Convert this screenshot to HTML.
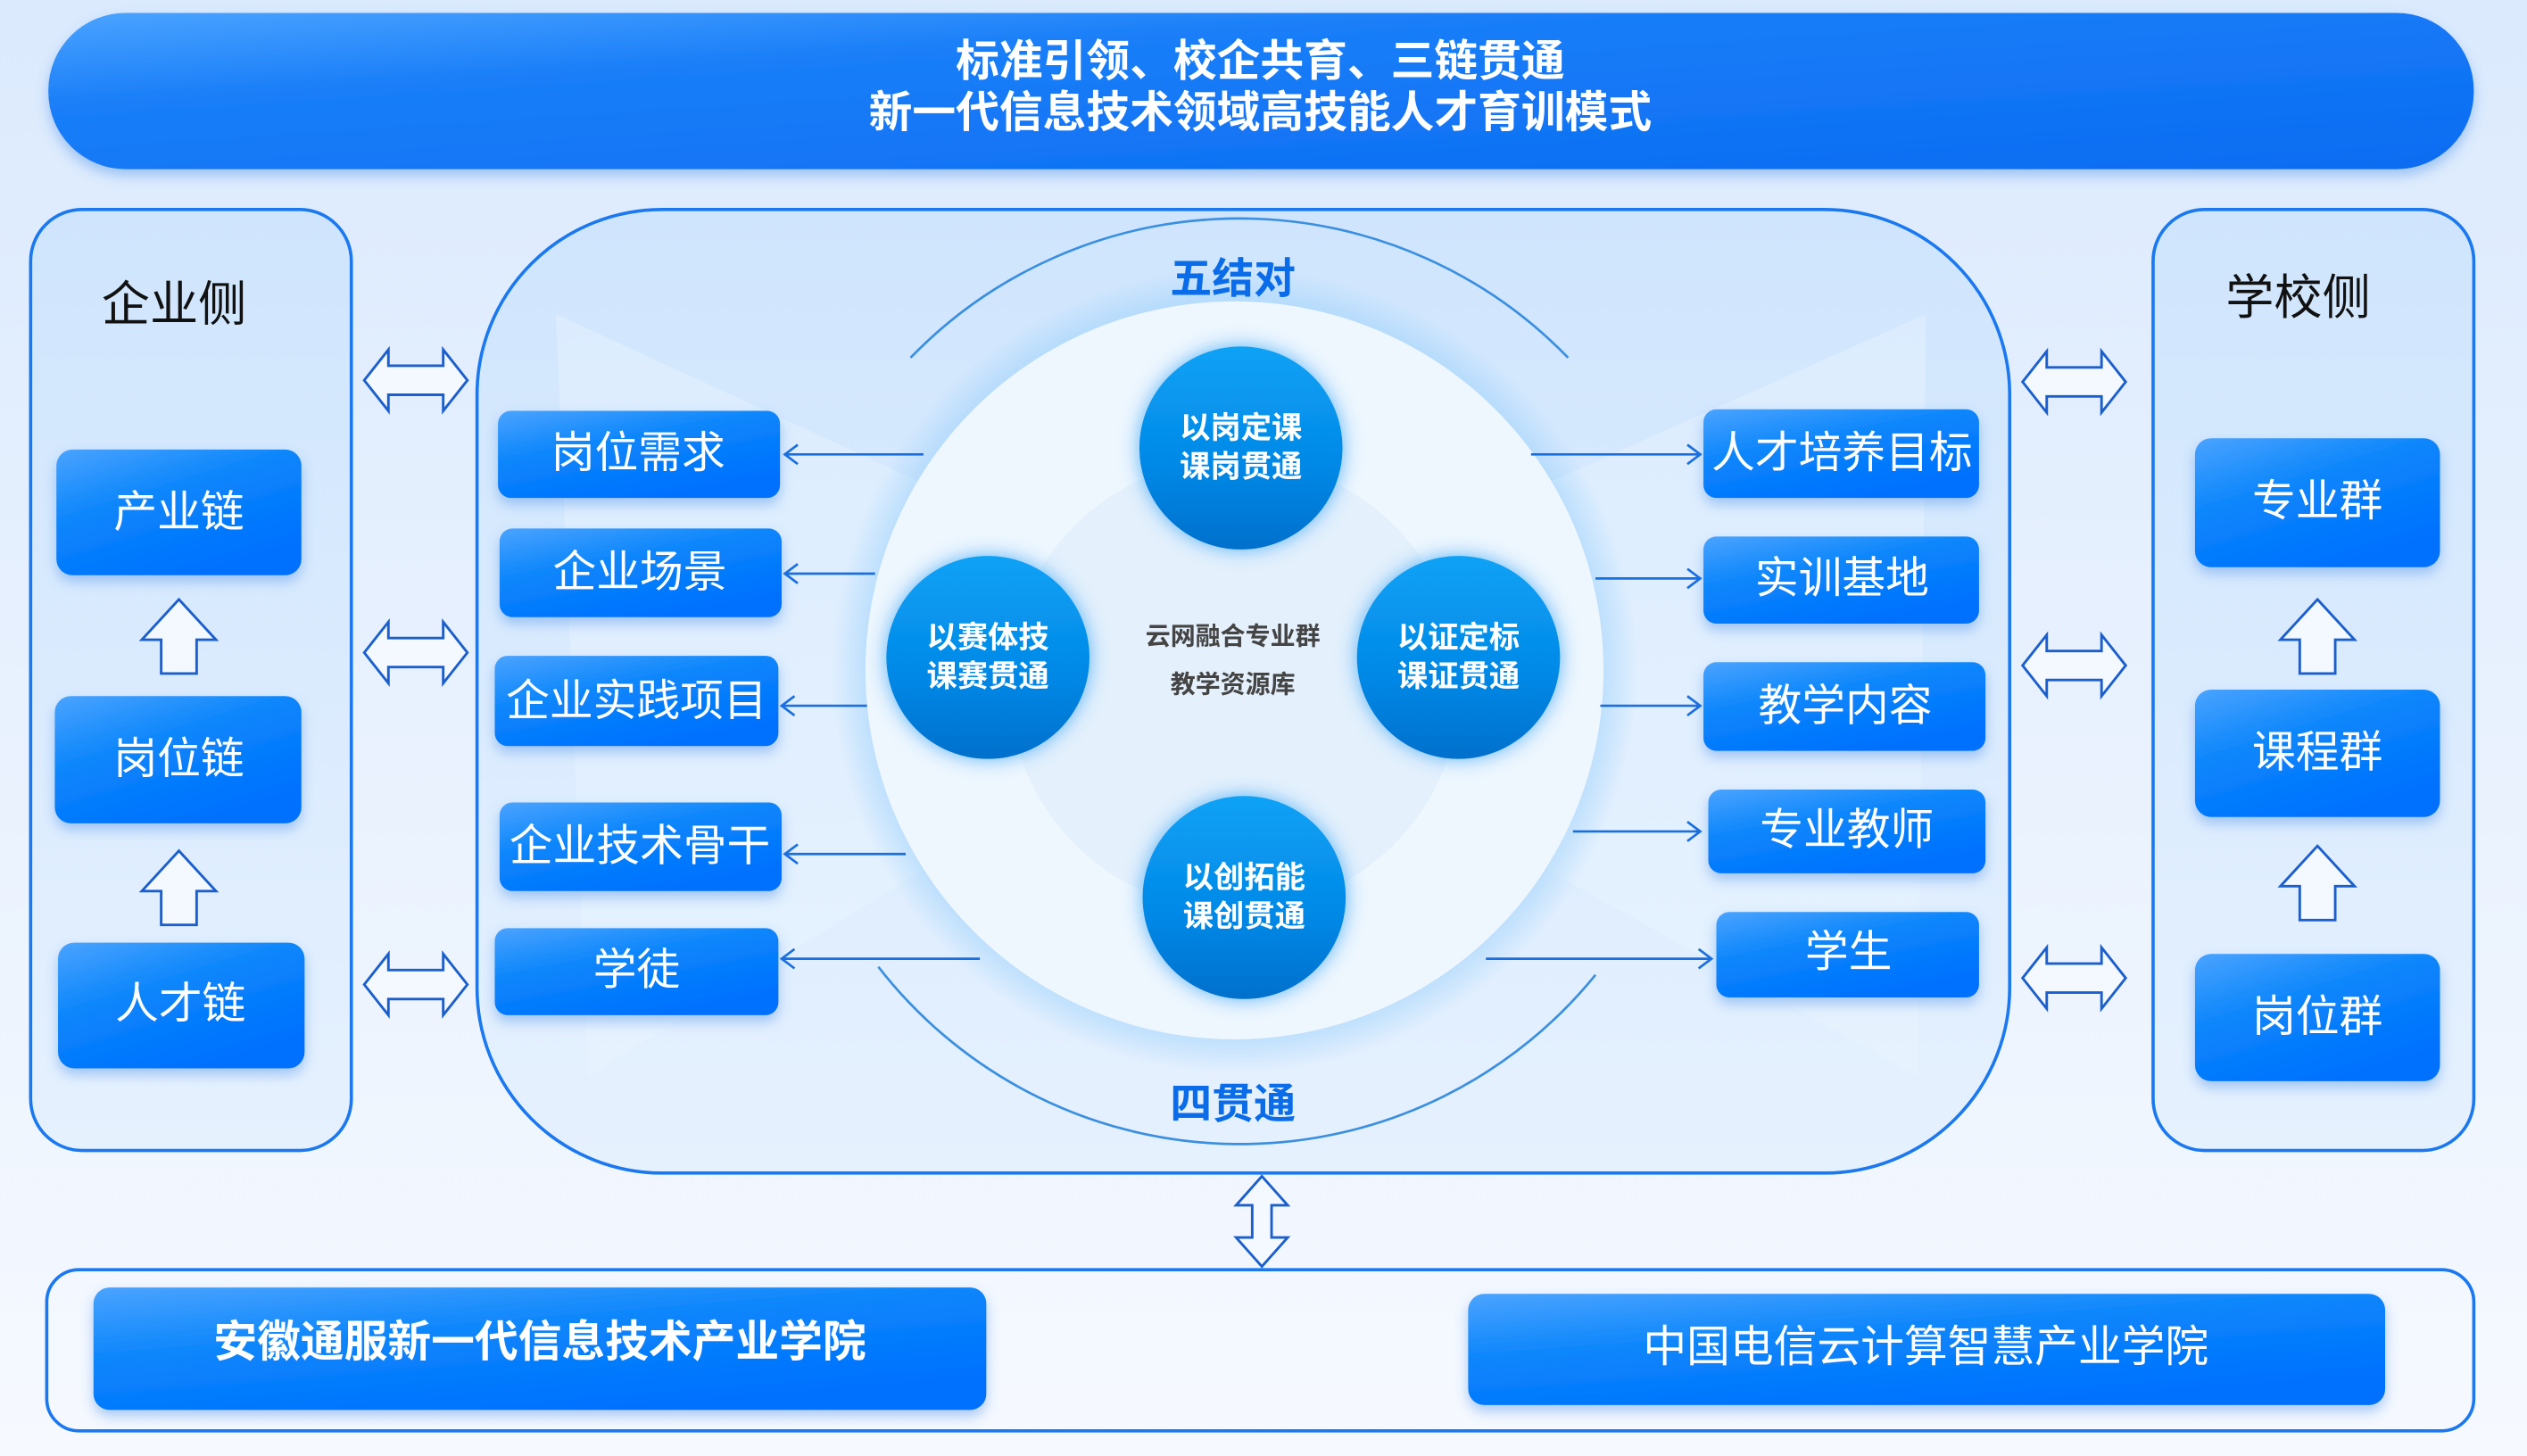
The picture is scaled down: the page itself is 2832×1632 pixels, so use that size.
<!DOCTYPE html>
<html><head><meta charset="utf-8"><style>
html,body{margin:0;padding:0;width:2832px;height:1632px;overflow:hidden;background:#eef5fe}
svg{display:block}
text{font-family:"Liberation Sans","Noto Sans CJK SC",sans-serif}
</style></head><body>
<svg width="2832" height="1632" viewBox="0 0 1568 903.6" xmlns="http://www.w3.org/2000/svg">
<defs>
<linearGradient id="bg" x1="0" y1="0" x2="0" y2="1"><stop offset="0" stop-color="#dbeafd"/><stop offset="1" stop-color="#f6f9ff"/></linearGradient>
<linearGradient id="ban" x1="0" y1="0" x2="1" y2="1"><stop offset="0" stop-color="#4aa3ff"/><stop offset="0.3" stop-color="#1a7ef8"/><stop offset="1" stop-color="#0a6cf2"/></linearGradient>
<linearGradient id="box" x1="0" y1="0" x2="0.6" y2="1"><stop offset="0" stop-color="#4aa3ff"/><stop offset="0.45" stop-color="#0a85fb"/><stop offset="1" stop-color="#0070ff"/></linearGradient>
<linearGradient id="sc" x1="0" y1="0" x2="0" y2="1"><stop offset="0" stop-color="#0aa2f6"/><stop offset="0.6" stop-color="#0488e6"/><stop offset="1" stop-color="#0070cc"/></linearGradient>
<linearGradient id="pan" x1="0" y1="0" x2="0" y2="1"><stop offset="0" stop-color="#cfe5fd"/><stop offset="1" stop-color="#e6f1fe"/></linearGradient>
<radialGradient id="glow"><stop offset="0.8" stop-color="#8fccfb"/><stop offset="1" stop-color="#8fccfb" stop-opacity="0"/></radialGradient>
<filter id="sh" x="-20%" y="-20%" width="140%" height="150%"><feDropShadow dx="0" dy="4" stdDeviation="4" flood-color="#4a8fe8" flood-opacity="0.45"/></filter>
<filter id="cg" x="-30%" y="-30%" width="160%" height="160%"><feDropShadow dx="0" dy="0" stdDeviation="6" flood-color="#39a4f5" flood-opacity="0.8"/></filter>
</defs>
<rect width="1568" height="904" fill="url(#bg)"/>
<rect x="30" y="8" width="1505" height="97" rx="48" fill="url(#ban)" filter="url(#sh)"/>
<text x="782" y="47" font-size="27" font-weight="bold" fill="#fff" text-anchor="middle">标准引领、校企共育、三链贯通</text>
<text x="782" y="79" font-size="27" font-weight="bold" fill="#fff" text-anchor="middle">新一代信息技术领域高技能人才育训模式</text>
<rect x="19" y="130" width="199" height="584" rx="32" fill="url(#pan)" stroke="#1a78f0" stroke-width="2"/>
<rect x="1336" y="130" width="199" height="584" rx="32" fill="url(#pan)" stroke="#1a78f0" stroke-width="2"/>
<text x="108" y="199" font-size="30" fill="#111" text-anchor="middle">企业侧</text>
<text x="1426" y="195" font-size="30" fill="#111" text-anchor="middle">学校侧</text>
<rect x="296" y="130" width="951" height="598" rx="115" fill="url(#pan)" stroke="#1a78f0" stroke-width="2"/>
<polygon points="345,195 573,300 573,540 365,668" fill="#e8f3fe" opacity="0.45"/>
<polygon points="1195,195 960,300 960,540 1190,668" fill="#e8f3fe" opacity="0.45"/>
<path d="M565,222 A284,284 0 0 1 973,222" fill="none" stroke="#3a8fe0" stroke-width="1.5"/>
<path d="M545,600 A284,284 0 0 0 990,605" fill="none" stroke="#3a8fe0" stroke-width="1.5"/>
<circle cx="766" cy="416" r="250" fill="url(#glow)"/>
<circle cx="766" cy="416" r="229" fill="#eef6fe"/>
<circle cx="766" cy="425" r="140" fill="#e4f0fc"/>
<text x="765" y="182" font-size="26" font-weight="bold" fill="#0a6ce8" text-anchor="middle">五结对</text>
<text x="765" y="694" font-size="26" font-weight="bold" fill="#0a6ce8" text-anchor="middle">四贯通</text>
<text x="765" y="400" font-size="15.5" font-weight="bold" fill="#444" text-anchor="middle">云网融合专业群</text>
<text x="765" y="430" font-size="15.5" font-weight="bold" fill="#444" text-anchor="middle">教学资源库</text>
<g filter="url(#cg)" fill="url(#sc)">
<circle cx="770" cy="278" r="63"/><circle cx="613" cy="408" r="63"/><circle cx="905" cy="408" r="63"/><circle cx="772" cy="557" r="63"/>
</g>
<g font-size="19" font-weight="bold" fill="#fff" text-anchor="middle">
<text x="770" y="272">以岗定课</text><text x="770" y="296">课岗贯通</text>
<text x="613" y="402">以赛体技</text><text x="613" y="426">课赛贯通</text>
<text x="905" y="402">以证定标</text><text x="905" y="426">课证贯通</text>
<text x="772" y="551">以创拓能</text><text x="772" y="575">课创贯通</text>
</g>
<g fill="url(#box)" filter="url(#sh)">
<rect x="35" y="279" width="152" height="78" rx="10"/>
<rect x="34" y="432" width="153" height="79" rx="10"/>
<rect x="36" y="585" width="153" height="78" rx="10"/>
<rect x="1362" y="272" width="152" height="80" rx="10"/>
<rect x="1362" y="428" width="152" height="79" rx="10"/>
<rect x="1362" y="592" width="152" height="79" rx="10"/>
<rect x="309" y="255" width="175" height="54" rx="8"/>
<rect x="310" y="328" width="175" height="55" rx="8"/>
<rect x="307" y="407" width="176" height="56" rx="8"/>
<rect x="310" y="498" width="175" height="55" rx="8"/>
<rect x="307" y="576" width="176" height="54" rx="8"/>
<rect x="1057" y="254" width="171" height="55" rx="8"/>
<rect x="1057" y="333" width="171" height="54" rx="8"/>
<rect x="1057" y="411" width="175" height="55" rx="8"/>
<rect x="1060" y="490" width="172" height="52" rx="8"/>
<rect x="1065" y="566" width="163" height="53" rx="8"/>
<rect x="58" y="799" width="554" height="76" rx="10"/>
<rect x="911" y="803" width="569" height="69" rx="10"/>
</g>
<g font-size="27" fill="#fff" text-anchor="middle">
<text x="111" y="327">产业链</text><text x="111" y="480">岗位链</text><text x="112" y="632">人才链</text>
<text x="1438" y="320">专业群</text><text x="1438" y="476">课程群</text><text x="1438" y="640">岗位群</text>
<text x="396" y="290">岗位需求</text><text x="397" y="364">企业场景</text><text x="395" y="444">企业实践项目</text>
<text x="397" y="534">企业技术骨干</text><text x="395" y="611">学徒</text>
<text x="1143" y="290">人才培养目标</text><text x="1143" y="368">实训基地</text><text x="1145" y="447">教学内容</text>
<text x="1146" y="524">专业教师</text><text x="1147" y="600">学生</text>
<text x="335" y="842" font-weight="bold">安徽通服新一代信息技术产业学院</text>
<text x="1195" y="845">中国电信云计算智慧产业学院</text>
</g>
<rect x="29" y="788" width="1506" height="100" rx="20" fill="none" stroke="#1a78f0" stroke-width="2"/>
<g stroke="#1a6fe0" stroke-width="1.5" fill="none">
<path d="M573,282H487M495,276L487,282L495,288"/>
<path d="M543,356H487M495,350L487,356L495,362"/>
<path d="M538,438H485M493,432L485,438L493,444"/>
<path d="M562,530H487M495,524L487,530L495,536"/>
<path d="M608,595H485M493,589L485,595L493,601"/>
<path d="M950,282H1055M1047,276L1055,282L1047,288"/>
<path d="M990,359H1055M1047,353L1055,359L1047,365"/>
<path d="M993,438H1055M1047,432L1055,438L1047,444"/>
<path d="M976,516H1055M1047,510L1055,516L1047,522"/>
<path d="M922,595H1062M1054,589L1062,595L1054,601"/>
</g>
<defs>
<path id="dh" d="M-32,0L-17,-19V-9H17V-19L32,0L17,19V9H-17V19Z"/>
<path id="up" d="M0,-23L23,2H11V23H-11V2H-23Z"/>
</defs>
<g fill="#f4f9ff" stroke="#1b5fcc" stroke-width="1.6">
<use href="#dh" x="258" y="236"/><use href="#dh" x="258" y="405"/><use href="#dh" x="258" y="611"/>
<use href="#dh" x="1287" y="237"/><use href="#dh" x="1287" y="413"/><use href="#dh" x="1287" y="607"/>
<use href="#up" x="111" y="395"/><use href="#up" x="111" y="551"/>
<use href="#up" x="1438" y="395"/><use href="#up" x="1438" y="548"/>
<path d="M783,730L799,748H789V768H799L783,786L767,768H777V748H767Z"/>
</g>
</svg>
</body></html>
